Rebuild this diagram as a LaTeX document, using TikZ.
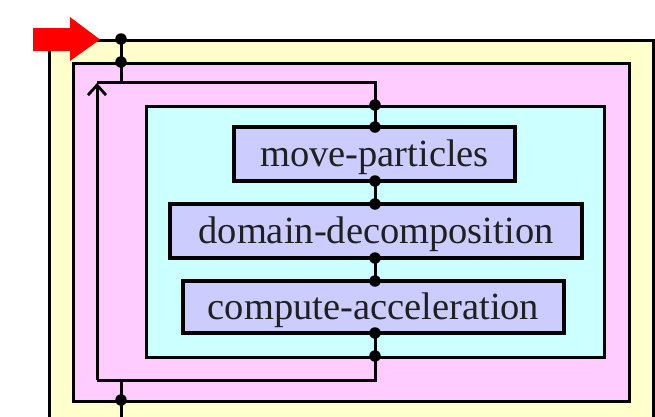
\documentclass[tikz,border=0pt]{standalone}
\usepackage{fontspec}
\setmainfont{Liberation Serif}
\usetikzlibrary{arrows.meta}
\definecolor{yel}{HTML}{FFFFCC}
\definecolor{pnk}{HTML}{FFCCFF}
\definecolor{cyn}{HTML}{CCFFFF}
\definecolor{lav}{HTML}{CCCCFF}
\definecolor{txt}{HTML}{202020}
\tikzset{
  frame/.style={draw=black, line width=3.4pt, rectangle, inner sep=0pt, anchor=north west},
  task/.style={draw=black, line width=3.4pt, fill=lav, rectangle, inner sep=0pt,
    font=\fontsize{38.5}{40}\selectfont, text=txt, text height=24.5pt, text depth=0pt},
  conn/.style={draw=black, line width=3pt},
  jdot/.style={fill=black, circle, inner sep=0pt, minimum size=11.5pt},
}
\begin{document}
\begin{tikzpicture}[x=1pt,y=-1pt]
\useasboundingbox (0,0) rectangle (655,416);
\clip (0,0) rectangle (655,416);
\fill[white] (0,0) rectangle (655,416);
% containers
\node[frame, fill=yel, minimum width=604pt, minimum height=420pt] (yellow) at (48,39) {};
\node[frame, fill=pnk, minimum width=556pt, minimum height=338pt] (pink) at (72,62) {};
\node[frame, fill=cyn, minimum width=458pt, minimum height=251pt] (cyan) at (145,105) {};
% tasks
\node[task, minimum width=281pt, minimum height=54pt] (move) at (374.5,154) {move-particles};
\node[task, minimum width=412pt, minimum height=54pt] (dom) at (376,231) {domain-decomposition};
\node[task, minimum width=381pt, minimum height=52pt] (comp) at (373.5,307) {compute-acceleration};
% coordinates
\coordinate (ytop) at (121,39);
\coordinate (ptop) at (121,62);
\coordinate (ltop) at (121,82);
\coordinate (looptl) at (97,82);
\coordinate (looptr) at (375,82);
\coordinate (loopbl) at (97,380);
\coordinate (loopbr) at (375,380);
\coordinate (lbot) at (121,380);
\coordinate (pbot) at (121,400);
\coordinate (out) at (121,420);
\coordinate (ctop) at (375,105);
\coordinate (cbot) at (375,356);
\coordinate (mtop) at (375,127);
\coordinate (mbot) at (375,181);
\coordinate (dtop) at (375,204);
\coordinate (dbot) at (375,258);
\coordinate (ktop) at (375,281);
\coordinate (kbot) at (375,333);
% connectors
\draw[conn] (ytop) -- (ptop) -- (ltop);
\draw[conn] (cbot) -- (loopbr) -- (loopbl);
\draw[conn, -{Straight Barb[length=10pt,width=18pt,line width=2.8pt]}] (loopbl) -- ([yshift=-1pt]looptl);
\draw[conn] (looptl) -- (looptr) -- (ctop);
\draw[conn] (ctop) -- (mtop);
\draw[conn] (mbot) -- (dtop);
\draw[conn] (dbot) -- (ktop);
\draw[conn] (kbot) -- (cbot);
\draw[conn] (lbot) -- (pbot) -- (out);
% junction dots
\foreach \p in {ytop,ptop,ctop,mtop,mbot,dtop,dbot,ktop,kbot,cbot,pbot}
  \node[jdot] at (\p) {};
% red entry arrow
\fill[red] (33,28) -- (70,28) -- (70,17) -- (100,39.5) -- (70,61) -- (70,51) -- (33,51) -- cycle;
\end{tikzpicture}
\end{document}
